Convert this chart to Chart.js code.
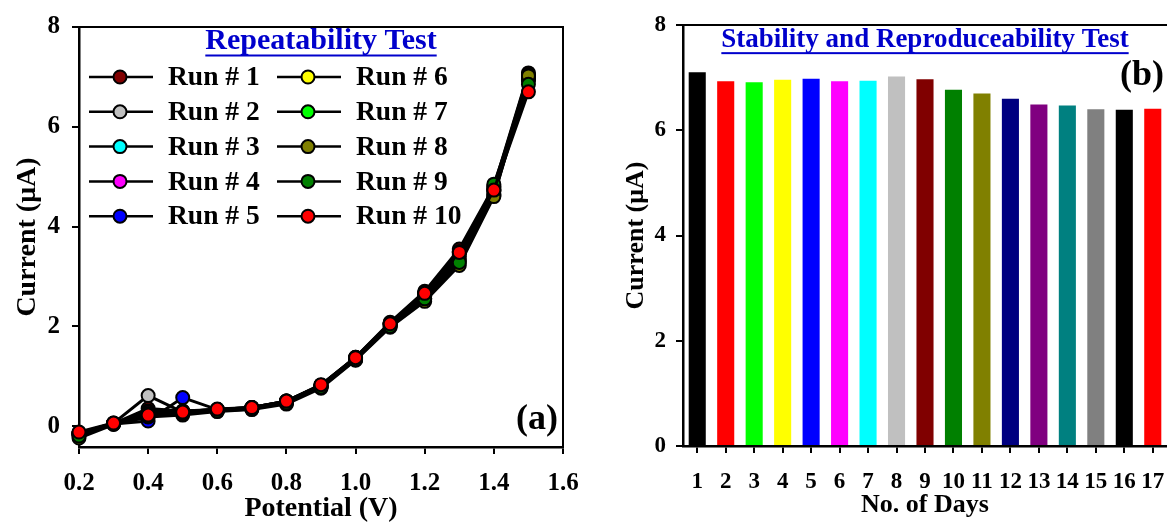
<!DOCTYPE html>
<html>
<head>
<meta charset="utf-8">
<script src="https://cdn.jsdelivr.net/npm/chart.js@4.4.1/dist/chart.umd.min.js"></script>
<style>
  body { margin: 0; background: #fff; width: 1167px; height: 526px; overflow: hidden; position: relative; }
  canvas { position: absolute; top: 0; }
  #runChart { left: 0; }
  #dayChart { left: 590px; }
</style>
</head>
<body>
<canvas id="runChart" width="590" height="526"></canvas>
<canvas id="dayChart" width="577" height="526"></canvas>
<script>
// (a) repeatability: current vs potential for 10 runs
const potential = [0.2, 0.3, 0.4, 0.5, 0.6, 0.7, 0.8, 0.9, 1.0, 1.1, 1.2, 1.3, 1.4, 1.5];
const runLabels = ['Run # 1', 'Run # 2', 'Run # 3', 'Run # 4', 'Run # 5',
                   'Run # 6', 'Run # 7', 'Run # 8', 'Run # 9', 'Run # 10'];
const runColors = ['#800000', '#c0c0c0', '#00ffff', '#ff00ff', '#0000ff',
                   '#ffff00', '#00ff00', '#808000', '#008000', '#ff0000'];
const run1  = [-0.15, 0.05, 0.35, 0.30, 0.33, 0.37, 0.50, 0.82, 1.38, 2.08, 2.70, 3.55, 4.80, 7.08];
const run2  = [-0.15, 0.06, 0.61, 0.28, 0.32, 0.36, 0.49, 0.80, 1.36, 2.05, 2.65, 3.45, 4.70, 7.00];
const run3  = [-0.14, 0.05, 0.30, 0.29, 0.33, 0.37, 0.50, 0.81, 1.37, 2.06, 2.68, 3.50, 4.75, 7.02];
const run4  = [-0.16, 0.05, 0.28, 0.30, 0.32, 0.36, 0.49, 0.80, 1.36, 2.04, 2.62, 3.40, 4.72, 6.98];
const run5  = [-0.15, 0.04, 0.10, 0.57, 0.33, 0.37, 0.50, 0.82, 1.38, 2.06, 2.66, 3.48, 4.78, 7.05];
const run6  = [-0.17, 0.05, 0.25, 0.27, 0.31, 0.35, 0.48, 0.79, 1.35, 2.03, 2.60, 3.35, 4.65, 6.95];
const run7  = [-0.18, 0.05, 0.22, 0.26, 0.31, 0.35, 0.47, 0.78, 1.34, 2.02, 2.55, 3.30, 4.62, 6.92];
const run8  = [-0.24, 0.03, 0.18, 0.22, 0.29, 0.33, 0.44, 0.76, 1.32, 1.98, 2.50, 3.22, 4.60, 7.02];
const run9  = [-0.20, 0.04, 0.20, 0.25, 0.30, 0.34, 0.46, 0.78, 1.33, 2.00, 2.55, 3.28, 4.85, 6.85];
const run10 = [-0.12, 0.06, 0.22, 0.28, 0.34, 0.37, 0.50, 0.83, 1.37, 2.05, 2.66, 3.48, 4.73, 6.70];
const runValues = [run1, run2, run3, run4, run5, run6, run7, run8, run9, run10];
const potentialTicks = [0.2, 0.4, 0.6, 0.8, 1.0, 1.2, 1.4, 1.6];
const currentTicks = [0, 2, 4, 6, 8];

// (b) stability over days
const days = ['1', '2', '3', '4', '5', '6', '7', '8', '9', '10', '11', '12', '13', '14', '15', '16', '17'];
const dayCurrent = [7.10, 6.93, 6.91, 6.96, 6.98, 6.93, 6.94, 7.02, 6.97, 6.77, 6.70, 6.60, 6.49, 6.47, 6.40, 6.39, 6.41];
const dayColors = ['#000000', '#ff0000', '#00ff00', '#ffff00', '#0000ff', '#ff00ff', '#00ffff', '#c0c0c0', '#800000',
                   '#008000', '#808000', '#000080', '#800080', '#008080', '#808080', '#000000', '#ff0000'];

const serif = "'Liberation Serif', 'Times New Roman', serif";
Chart.defaults.font.family = serif;
Chart.defaults.font.weight = 'bold';
Chart.defaults.color = '#000';

// frame, underlined blue title, panel letter
const decorations = {
  id: 'decorations',
  afterDraw(chart, args, opts) {
    const { ctx, chartArea: a } = chart;
    ctx.save();
    ctx.strokeStyle = '#000';
    ctx.lineWidth = 2;
    ctx.beginPath();
    ctx.moveTo(a.left, a.top);
    ctx.lineTo(a.right, a.top);
    if (opts.rightEdge) ctx.lineTo(a.right, a.bottom);
    ctx.stroke();

    ctx.font = `bold ${opts.titleSize}px ${serif}`;
    ctx.fillStyle = '#0000cc';
    ctx.textAlign = 'center';
    ctx.textBaseline = 'middle';
    const cx = (a.left + a.right) / 2;
    ctx.fillText(opts.title, cx, a.top + opts.titleDy);
    const w = ctx.measureText(opts.title).width;
    ctx.fillRect(cx - w / 2, a.top + opts.titleDy + opts.titleSize * 0.45, w, 2);

    ctx.font = `bold ${opts.tagSize}px ${serif}`;
    ctx.fillStyle = '#000';
    ctx.textAlign = opts.tagAlign;
    ctx.fillText(opts.tag, opts.tagX, opts.tagY);
    ctx.restore();
  }
};

// two-column legend inside the plot
const runLegend = {
  id: 'runLegend',
  afterDraw(chart, args, opts) {
    const { ctx, chartArea: a } = chart;
    ctx.save();
    ctx.font = `bold ${opts.fontSize}px ${serif}`;
    ctx.textAlign = 'left';
    ctx.textBaseline = 'middle';
    chart.data.datasets.forEach((ds, i) => {
      const col = Math.floor(i / 5), row = i % 5;
      const x0 = a.left + opts.cols[col];
      const y = a.top + opts.rowTop + row * opts.rowGap;
      ctx.strokeStyle = '#000';
      ctx.lineWidth = 2.5;
      ctx.beginPath();
      ctx.moveTo(x0, y);
      ctx.lineTo(x0 + 64, y);
      ctx.stroke();
      ctx.beginPath();
      ctx.arc(x0 + 31, y, 6.5, 0, Math.PI * 2);
      ctx.fillStyle = ds.pointBackgroundColor;
      ctx.fill();
      ctx.lineWidth = 2;
      ctx.stroke();
      ctx.fillStyle = '#000';
      ctx.fillText(ds.label, x0 + 79, y + 1);
    });
    ctx.restore();
  }
};

const axisGrid = { display: true, drawOnChartArea: false, drawTicks: true, tickLength: 7, color: '#000', lineWidth: 2 };
const axisBorder = { display: true, color: '#000', width: 2.5 };

// fixed axis box; stop edge labels from pushing the plot inward
const fixHeight = h => s => { s.height = h; s.paddingLeft = 0; s.paddingRight = 0; };

new Chart(document.getElementById('runChart'), {
  type: 'line',
  data: {
    datasets: runLabels.map((label, i) => ({
      label: label,
      data: potential.map((p, j) => ({ x: p, y: runValues[i][j] })),
      borderColor: '#000',
      borderWidth: 3,
      pointBackgroundColor: runColors[i],
      pointBorderColor: '#000',
      pointBorderWidth: 2,
      pointRadius: 6.5,
      tension: 0,
      clip: false,
      order: runLabels.length - i
    }))
  },
  options: {
    responsive: false,
    animation: false,
    devicePixelRatio: 1,
    layout: { padding: { top: 24, right: 27, left: 0, bottom: 0 } },
    plugins: {
      legend: { display: false },
      tooltip: { enabled: false },
      decorations: { title: 'Repeatability Test', titleSize: 30, titleDy: 14, rightEdge: true,
                     tag: '(a)', tagSize: 36, tagAlign: 'right', tagX: 558, tagY: 420 },
      runLegend: { fontSize: 27.5, cols: [10, 198], rowTop: 50, rowGap: 34.8 }
    },
    scales: {
      x: {
        type: 'linear', min: 0.2, max: 1.6,
        afterBuildTicks: s => { s.ticks = potentialTicks.map(v => ({ value: v })); },
        afterFit: fixHeight(79),
        ticks: { font: { size: 25 }, padding: 15, callback: v => v.toFixed(1) },
        grid: axisGrid, border: axisBorder,
        title: { display: true, text: 'Potential (V)', font: { size: 28 }, padding: 0 }
      },
      y: {
        min: -0.42, max: 8,
        afterBuildTicks: s => { s.ticks = currentTicks.map(v => ({ value: v })); },
        afterFit: s => { s.width = 79; },
        ticks: { font: { size: 25 }, padding: 12 },
        grid: axisGrid, border: axisBorder,
        title: { display: true, text: 'Current (μA)', font: { size: 28 }, padding: 11 }
      }
    }
  },
  plugins: [decorations, runLegend]
});

new Chart(document.getElementById('dayChart'), {
  type: 'bar',
  data: {
    labels: days,
    datasets: [{
      label: 'Current',
      data: dayCurrent,
      backgroundColor: dayColors,
      borderWidth: 0,
      barPercentage: 0.6,
      categoryPercentage: 1
    }]
  },
  options: {
    responsive: false,
    animation: false,
    devicePixelRatio: 1,
    layout: { padding: { top: 25, right: 0, left: 0, bottom: 0 } },
    plugins: {
      legend: { display: false },
      tooltip: { enabled: false },
      decorations: { title: 'Stability and Reproduceability Test', titleSize: 27, titleDy: 15, rightEdge: false,
                     tag: '(b)', tagSize: 36, tagAlign: 'left', tagX: 530, tagY: 76 }
    },
    scales: {
      x: {
        afterFit: fixHeight(80),
        ticks: { font: { size: 23 }, padding: 15, maxRotation: 0, autoSkip: false },
        grid: Object.assign({}, axisGrid, { offset: false }), border: axisBorder,
        title: { display: true, text: 'No. of Days', font: { size: 26 }, padding: 5 }
      },
      y: {
        min: 0, max: 8,
        afterBuildTicks: s => { s.ticks = currentTicks.map(v => ({ value: v })); },
        afterFit: s => { s.width = 93; },
        ticks: { font: { size: 23 }, padding: 10 },
        grid: axisGrid, border: axisBorder,
        title: { display: true, text: 'Current (μA)', font: { size: 26 }, padding: 31 }
      }
    }
  },
  plugins: [decorations]
});
</script>
</body>
</html>
